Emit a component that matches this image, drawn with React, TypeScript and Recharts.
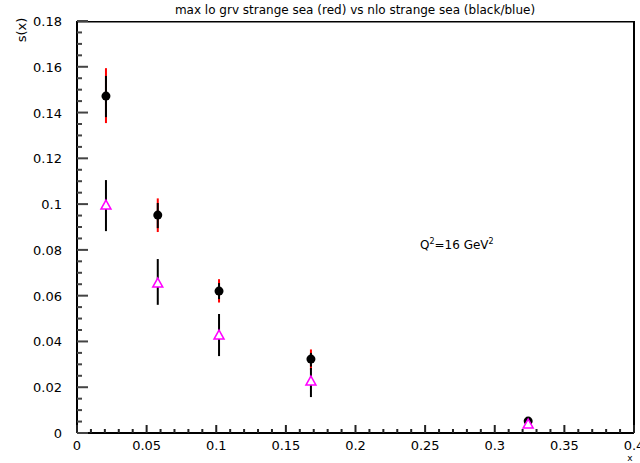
import { ScatterChart, Scatter, XAxis, YAxis, ErrorBar } from 'recharts'

// x positions of the measured bins
const xBins = [0.0208, 0.058, 0.102, 0.168, 0.324]

// filled circles with black and red error ranges
const circleY = [0.1472, 0.0952, 0.062, 0.0323, 0.0052]
const circleBlackHi = [0.156, 0.1005, 0.0655, 0.035, 0.0062]
const circleBlackLo = [0.138, 0.0895, 0.0585, 0.029, 0.0042]
const circleRedHi = [0.1594, 0.1025, 0.0672, 0.0365, 0.0065]
const circleRedLo = [0.1354, 0.0878, 0.057, 0.0275, 0.004]

// open triangles with black error ranges
const triangleY = [0.0996, 0.0655, 0.0428, 0.0227, 0.0039]
const triangleHi = [0.1105, 0.076, 0.052, 0.0284, 0.0055]
const triangleLo = [0.0882, 0.056, 0.0336, 0.0157, 0.0025]

const xTicks = Array.from({ length: 41 }, (_, i) => i / 100)
const yTicks = Array.from({ length: 37 }, (_, i) => (i * 5) / 1000)

const X_MAX = 0.4
const Y_MAX = 0.18

const W = 640
const H = 463
const MARGIN = { top: 21, right: 6, bottom: 0, left: 0 }
const Y_AXIS_W = 77
const X_AXIS_H = 30

// plot box, used for the frame and the inward tick marks
const BOX = {
  left: MARGIN.left + Y_AXIS_W,
  right: W - MARGIN.right,
  top: MARGIN.top,
  bottom: H - MARGIN.bottom - X_AXIS_H,
}
const px = (v: number) => BOX.left + (v / X_MAX) * (BOX.right - BOX.left)
const py = (v: number) => BOX.bottom - (v / Y_MAX) * (BOX.bottom - BOX.top)

const circleData = xBins.map((x, i) => ({
  x,
  y: circleY[i],
  red: [circleY[i] - circleRedLo[i], circleRedHi[i] - circleY[i]],
  black: [circleY[i] - circleBlackLo[i], circleBlackHi[i] - circleY[i]],
}))

const triangleData = xBins.map((x, i) => ({
  x,
  y: triangleY[i],
  err: [triangleY[i] - triangleLo[i], triangleHi[i] - triangleY[i]],
}))

const FONT = 'DejaVu Sans, sans-serif'

const fmt = (v: number) => String(parseFloat(v.toFixed(3)))
const isMajorX = (v: number) => Math.round(v * 100) % 5 === 0
const isMajorY = (v: number) => Math.round(v * 1000) % 20 === 0

const XTick = (props: any) => {
  const { x, y, payload } = props
  if (!isMajorX(payload.value)) return <g />
  return (
    <text x={x} y={y + 17} textAnchor="middle" fontSize={13} fontFamily={FONT} fill="#000">
      {fmt(payload.value)}
    </text>
  )
}

const YTick = (props: any) => {
  const { x, y, payload } = props
  if (!isMajorY(payload.value)) return <g />
  return (
    <text x={x - 15} y={y + 5} textAnchor="end" fontSize={13} fontFamily={FONT} fill="#000">
      {fmt(payload.value)}
    </text>
  )
}

const Circle = ({ cx, cy }: any) => <circle cx={cx} cy={cy} r={4.5} fill="#000" />

const Triangle = ({ cx, cy }: any) => (
  <path
    d={`M${cx},${cy - 5} L${cx + 5},${cy + 4} L${cx - 5},${cy + 4} Z`}
    fill="#fff"
    stroke="#ff00ff"
    strokeWidth={1.5}
  />
)

export default function App() {
  return (
    <div style={{ position: 'absolute', left: 0, top: 0, width: W, height: H }}>
      <ScatterChart width={W} height={H} margin={MARGIN}>
        <XAxis
          type="number"
          dataKey="x"
          domain={[0, X_MAX]}
          ticks={xTicks}
          interval={0}
          tick={<XTick />}
          tickSize={0}
          tickMargin={0}
          tickLine={false}
          height={X_AXIS_H}
          axisLine={{ stroke: '#000', strokeWidth: 2 }}
        />
        <YAxis
          type="number"
          dataKey="y"
          domain={[0, Y_MAX]}
          ticks={yTicks}
          interval={0}
          tick={<YTick />}
          tickSize={0}
          tickMargin={0}
          tickLine={false}
          width={Y_AXIS_W}
          axisLine={{ stroke: '#000', strokeWidth: 2 }}
        />
        <Scatter data={circleData} shape={<Circle />} isAnimationActive={false}>
          <ErrorBar dataKey="red" direction="y" width={0} stroke="#ff0000" strokeWidth={2} isAnimationActive={false} />
          <ErrorBar dataKey="black" direction="y" width={0} stroke="#000" strokeWidth={2} isAnimationActive={false} />
        </Scatter>
        <Scatter data={triangleData} shape={<Triangle />} isAnimationActive={false}>
          <ErrorBar dataKey="err" direction="y" width={0} stroke="#000" strokeWidth={2} isAnimationActive={false} />
        </Scatter>
      </ScatterChart>
      {/* frame, inward tick marks and captions */}
      <svg
        width={W}
        height={H}
        style={{ position: 'absolute', left: 0, top: 0, pointerEvents: 'none' }}
      >
        <rect x={BOX.left} y={BOX.top} width={BOX.right - BOX.left} height={1.5} fill="#000" />
        <rect x={BOX.right - 1} y={BOX.top} width={2} height={BOX.bottom - BOX.top} fill="#000" />
        {xTicks.map((v) => (
          <rect
            key={`xt${v}`}
            x={px(v) - 1}
            y={BOX.bottom - (isMajorX(v) ? 8 : 4)}
            width={2}
            height={isMajorX(v) ? 8 : 4}
            fill="#222"
          />
        ))}
        {yTicks.map((v) => (
          <rect
            key={`yt${v}`}
            x={BOX.left}
            y={py(v) - 1}
            width={isMajorY(v) ? 11 : 5}
            height={2}
            fill="#444"
          />
        ))}
        <text x={355} y={14} textAnchor="middle" fontSize={12} fontFamily={FONT} fill="#000">
          max lo grv strange sea (red) vs nlo strange sea (black/blue)
        </text>
        <text
          x={26}
          y={30}
          textAnchor="middle"
          fontSize={13}
          fontFamily={FONT}
          fill="#000"
          transform="rotate(-90 26 30)"
        >
          s(x)
        </text>
        <text x={630} y={461} textAnchor="middle" fontSize={9} fontFamily={FONT} fill="#000">
          x
        </text>
        <text x={420} y={249} fontSize={12} fontFamily={FONT} fill="#000">
          Q<tspan dy={-5} fontSize={8}>2</tspan>
          <tspan dy={5}>=16 GeV</tspan>
          <tspan dy={-5} fontSize={8}>2</tspan>
        </text>
      </svg>
    </div>
  )
}
